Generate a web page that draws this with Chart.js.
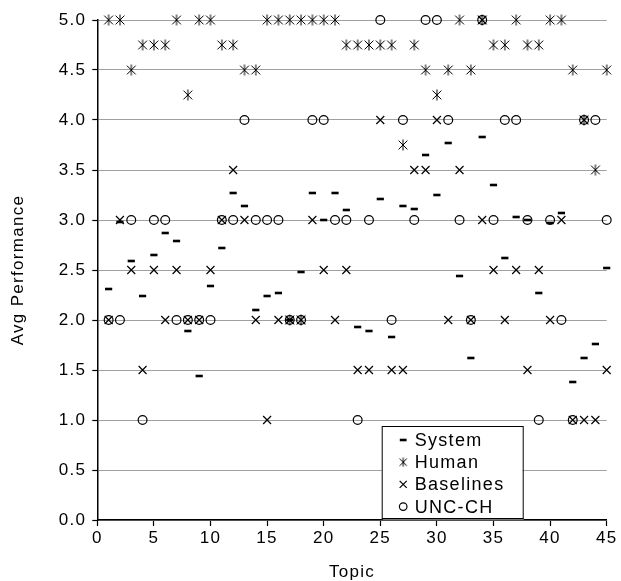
<!DOCTYPE html>
<html>
<head>
<meta charset="utf-8">
<title>Avg Performance by Topic</title>
<script src="https://cdn.jsdelivr.net/npm/chart.js@4.4.1/dist/chart.umd.min.js"></script>
<style>
  html, body { margin: 0; padding: 0; background: #fff; }
  #wrap { width: 621px; height: 581px; position: relative; }
</style>
</head>
<body>
<div id="wrap"><canvas id="chart"></canvas></div>
<script>
// Series names, in legend order
const seriesNames = ['System', 'Human', 'Baselines', 'UNC-CH'];

// System: one score per topic (1..45)
const systemTopics = [1, 2, 3, 4, 5, 6, 7, 8, 9, 10, 11, 12, 13, 14, 15, 16, 17, 18, 19, 20, 21, 22,
  23, 24, 25, 26, 27, 28, 29, 30, 31, 32, 33, 34, 35, 36, 37, 38, 39, 40, 41, 42, 43, 44, 45];
const systemScores = [2.31, 2.98, 2.59, 2.24, 2.65, 2.87, 2.79, 1.89, 1.44, 2.34, 2.72, 3.27, 3.14,
  2.10, 2.24, 2.27, 2.00, 2.48, 3.27, 3.00, 3.27, 3.10, 1.93, 1.89, 3.21, 1.83, 3.14, 3.11, 3.65,
  3.25, 3.77, 2.44, 1.62, 3.83, 3.35, 2.62, 3.03, 3.00, 2.27, 2.97, 3.07, 1.38, 1.62, 1.76, 2.52];

// Human judges
const humanTopics = [1, 2, 7, 9, 10, 15, 16, 17, 18, 19, 20, 21, 32, 34, 37, 40, 41,
  4, 5, 6, 11, 12, 22, 23, 24, 25, 26, 28, 35, 36, 38, 39,
  3, 13, 14, 29, 31, 33, 42, 45,
  8, 30, 43, 27, 44, 17, 18];
const humanScores = [5, 5, 5, 5, 5, 5, 5, 5, 5, 5, 5, 5, 5, 5, 5, 5, 5,
  4.75, 4.75, 4.75, 4.75, 4.75, 4.75, 4.75, 4.75, 4.75, 4.75, 4.75, 4.75, 4.75, 4.75, 4.75,
  4.5, 4.5, 4.5, 4.5, 4.5, 4.5, 4.5, 4.5,
  4.25, 4.25, 4.0, 3.75, 3.5, 2.0, 2.0];

// Baseline runs
const baselineTopics = [34,
  25, 30, 43,
  12, 28, 29, 32,
  2, 11, 13, 19, 34, 41,
  3, 5, 7, 10, 20, 22, 35, 37, 39,
  1, 6, 8, 9, 14, 16, 17, 18, 21, 31, 33, 36, 40,
  4, 23, 24, 26, 27, 38, 45,
  15, 42, 43, 44];
const baselineScores = [5.0,
  4.0, 4.0, 4.0,
  3.5, 3.5, 3.5, 3.5,
  3.0, 3.0, 3.0, 3.0, 3.0, 3.0,
  2.5, 2.5, 2.5, 2.5, 2.5, 2.5, 2.5, 2.5, 2.5,
  2.0, 2.0, 2.0, 2.0, 2.0, 2.0, 2.0, 2.0, 2.0, 2.0, 2.0, 2.0, 2.0,
  1.5, 1.5, 1.5, 1.5, 1.5, 1.5, 1.5,
  1.0, 1.0, 1.0, 1.0];

// UNC-CH runs
const uncTopics = [25, 29, 30, 34,
  13, 19, 20, 27, 31, 36, 37, 43, 44,
  3, 5, 6, 11, 12, 14, 15, 16, 21, 22, 24, 28, 32, 35, 38, 40, 45,
  1, 2, 7, 8, 9, 10, 17, 18, 26, 33, 41,
  4, 23, 39, 42];
const uncScores = [5.0, 5.0, 5.0, 5.0,
  4.0, 4.0, 4.0, 4.0, 4.0, 4.0, 4.0, 4.0, 4.0,
  3.0, 3.0, 3.0, 3.0, 3.0, 3.0, 3.0, 3.0, 3.0, 3.0, 3.0, 3.0, 3.0, 3.0, 3.0, 3.0, 3.0,
  2.0, 2.0, 2.0, 2.0, 2.0, 2.0, 2.0, 2.0, 2.0, 2.0, 2.0,
  1.0, 1.0, 1.0, 1.0];

const FONT = "'Liberation Sans', Arial, sans-serif";
const SPACING = '1.3px';

const toPoints = (xs, ys) => xs.map((x, i) => ({ x: x, y: ys[i] }));

// Excel-style asterisk marker (x plus a vertical bar)
function makeAsterisk(size, lw) {
  const c = document.createElement('canvas');
  c.width = c.height = size;
  const g = c.getContext('2d');
  const m = size / 2, r = size / 2 - 0.5, d = r * 0.8;
  g.strokeStyle = '#000';
  g.lineWidth = lw;
  g.beginPath();
  g.moveTo(m, m - r); g.lineTo(m, m + r);
  g.moveTo(m - d, m - d); g.lineTo(m + d, m + d);
  g.moveTo(m - d, m + d); g.lineTo(m + d, m - d);
  g.stroke();
  return c;
}

const marks = [
  { pointStyle: 'line', radius: 3.6, borderWidth: 2.6 },
  { pointStyle: makeAsterisk(12, 1.0), radius: 5 },
  { pointStyle: 'crossRot', radius: 5.6, borderWidth: 1.2 },
  { pointStyle: 'circle', radius: 4.4, borderWidth: 1.2 }
];
const legendMarks = [
  { pointStyle: 'line', radius: 3.4, borderWidth: 2.6 },
  { pointStyle: makeAsterisk(10, 1.0), radius: 4 },
  { pointStyle: 'crossRot', radius: 5, borderWidth: 1.2 },
  { pointStyle: 'circle', radius: 3.8, borderWidth: 1.2 }
];

function dataset(i, pts) {
  const m = marks[i];
  return {
    label: seriesNames[i],
    data: pts,
    pointStyle: m.pointStyle,
    pointRadius: m.radius,
    pointHoverRadius: m.radius,
    pointBorderWidth: m.borderWidth || 1,
    pointBorderColor: '#000',
    pointBackgroundColor: 'rgba(0,0,0,0)',
    showLine: false,
    clip: false
  };
}

// wider letter spacing, like the original's text
const letterSpacing = {
  id: 'letterSpacing',
  beforeLayout(chart) { chart.ctx.letterSpacing = SPACING; },
  beforeDraw(chart) { chart.ctx.letterSpacing = SPACING; }
};

// boxed legend inside the plot, lower right
const boxLegend = {
  id: 'boxLegend',
  afterDraw(chart) {
    const ctx = chart.ctx;
    const area = chart.chartArea;
    const w = 141, h = 92;
    const left = area.right - 84 - w;
    const top = area.bottom - 2 - h;
    ctx.save();
    ctx.fillStyle = '#777';
    ctx.fillRect(left + 1, top + h, w, 2);
    ctx.fillStyle = '#fff';
    ctx.fillRect(left, top, w, h);
    ctx.strokeStyle = '#000';
    ctx.lineWidth = 1;
    ctx.strokeRect(left + 0.5, top + 0.5, w, h);
    ctx.font = '18px ' + FONT;
    ctx.letterSpacing = SPACING;
    ctx.textBaseline = 'middle';
    ctx.textAlign = 'left';
    ctx.fillStyle = '#000';
    seriesNames.forEach((name, i) => {
      const y = top + 14 + i * 22.2;
      const m = legendMarks[i];
      if (Chart.helpers && Chart.helpers.drawPoint) {
        ctx.strokeStyle = '#000';
        ctx.fillStyle = 'rgba(0,0,0,0)';
        ctx.lineWidth = m.borderWidth || 1;
        Chart.helpers.drawPoint(ctx, { pointStyle: m.pointStyle, radius: m.radius, borderWidth: m.borderWidth || 1, rotation: 0 }, left + 21.5, y);
      }
      ctx.fillStyle = '#000';
      ctx.fillText(name, left + 33, y + 1);
    });
    ctx.restore();
  }
};

new Chart(document.getElementById('chart'), {
  type: 'scatter',
  data: {
    datasets: [
      dataset(0, toPoints(systemTopics, systemScores)),
      dataset(1, toPoints(humanTopics, humanScores)),
      dataset(2, toPoints(baselineTopics, baselineScores)),
      dataset(3, toPoints(uncTopics, uncScores))
    ]
  },
  options: {
    responsive: true,
    maintainAspectRatio: false,
    animation: false,
    layout: { padding: { top: 20, right: 14.3, left: 0, bottom: 0 } },
    plugins: {
      legend: { display: false },
      tooltip: { enabled: false }
    },
    scales: {
      x: {
        type: 'linear',
        min: 0,
        max: 45,
        afterFit(scale) { scale.height = 61; },
        ticks: { stepSize: 5, padding: 2, color: '#000', font: { family: FONT, size: 17 } },
        grid: { drawOnChartArea: false, drawTicks: true, tickLength: 6, tickColor: '#000', tickWidth: 1.2 },
        border: { color: '#000', width: 1.5 },
        title: {
          display: true,
          text: 'Topic',
          color: '#000',
          font: { family: FONT, size: 17, lineHeight: 1 },
          padding: { top: 0, bottom: 0 }
        }
      },
      y: {
        min: 0,
        max: 5,
        afterFit(scale) { scale.width = 97.3; },
        ticks: {
          stepSize: 0.5,
          padding: 6,
          color: '#000',
          font: { family: FONT, size: 17 },
          callback: v => v.toFixed(1)
        },
        grid: { color: '#a0a0a0', lineWidth: 1, tickLength: 5, tickColor: '#000', tickWidth: 1.2 },
        border: { color: '#000', width: 1.5 },
        title: {
          display: true,
          text: 'Avg Performance',
          color: '#000',
          font: { family: FONT, size: 17 },
          padding: { top: 8, bottom: 0 }
        }
      }
    }
  },
  plugins: [letterSpacing, boxLegend]
});
</script>
</body>
</html>
